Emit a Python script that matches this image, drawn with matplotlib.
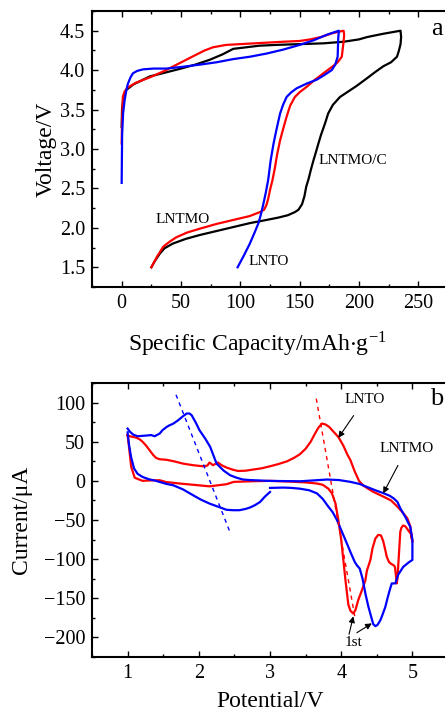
import matplotlib
matplotlib.use("Agg")
import matplotlib.pyplot as plt
from matplotlib.ticker import MultipleLocator

plt.rcParams['font.family'] = ['Liberation Serif', 'DejaVu Serif']
plt.rcParams['mathtext.fontset'] = 'stix'

# ---- panel a: charge/discharge curves (capacity mAh/g, voltage V) ----
lntmo_c_cap = [0, 0.3, 1.5, 4, 10, 23.6, 37, 50, 62, 74, 85, 94, 105, 116, 130, 150, 170, 187, 200, 207, 220, 235,
               235.5, 235, 233.5, 232, 227, 220.6, 214, 207, 198, 190, 184, 178, 174, 171.5, 168, 165.8, 163.5,
               161.7, 159.5, 157.5, 155.5, 154, 152, 149, 146, 140, 132, 122, 108, 94, 80, 66, 54, 43, 36, 32, 28, 25]
lntmo_c_v = [3.28, 3.5, 3.66, 3.75, 3.82, 3.92, 3.97, 4.02, 4.07, 4.13, 4.2, 4.27, 4.29, 4.31, 4.32, 4.33, 4.34, 4.36,
             4.39, 4.42, 4.46, 4.5,
             4.42, 4.33, 4.24, 4.17, 4.10, 4.05, 3.98, 3.90, 3.80, 3.72, 3.66, 3.56, 3.45, 3.33, 3.18, 3.07, 2.95,
             2.86, 2.74, 2.62, 2.52, 2.40, 2.30, 2.23, 2.20, 2.16, 2.13, 2.10, 2.06, 2.01, 1.96, 1.91, 1.86, 1.80,
             1.74, 1.67, 1.58, 1.5]

lntmo_cap = [0, 0.3, 1, 2.5, 5, 12, 24, 36, 49, 62, 70, 77, 88, 100, 118, 136, 150, 159, 168, 178, 187,
             187.5, 187, 185.5, 182, 178, 170, 163, 156, 150, 146, 142, 139, 136, 133.5, 131, 129, 127, 125,
             123.5, 122, 120, 116.5, 108, 94, 80, 66, 55, 46, 40, 35, 30, 25]
lntmo_v = [3.07, 3.35, 3.66, 3.73, 3.78, 3.84, 3.91, 3.99, 4.09, 4.19, 4.25, 4.29, 4.32, 4.33, 4.345, 4.36, 4.37,
           4.39, 4.42, 4.47, 4.5,
           4.45, 4.36, 4.17, 4.10, 4.05, 3.96, 3.88, 3.79, 3.72, 3.66, 3.55, 3.41, 3.25, 3.11, 2.93, 2.75, 2.60,
           2.48, 2.37, 2.29, 2.23, 2.20, 2.15, 2.10, 2.05, 1.99, 1.94, 1.88, 1.82, 1.76, 1.64, 1.5]

lnto_cap = [0, 0.2, 0.4, 1.2, 2.5, 4, 5.3, 7.5, 9.5, 13, 18, 27, 37.7, 50, 66, 80, 94, 108, 122, 136, 150, 162,
            173, 183,
            182.5, 182, 180, 177, 171, 164.5, 156, 147.5, 143, 139, 136, 133.5, 130.5, 128, 125.5, 123.5, 121.5,
            119.5, 117.5, 115.3, 112, 108, 103, 97.7]
lnto_v = [2.57, 2.9, 3.19, 3.45, 3.62, 3.75, 3.83, 3.91, 3.96, 3.99, 4.01, 4.02, 4.02, 4.04, 4.07, 4.10, 4.14, 4.17,
          4.21, 4.26, 4.32, 4.38, 4.45, 4.5,
          4.4, 4.17, 4.07, 4.0, 3.94, 3.88, 3.83, 3.77, 3.72, 3.66, 3.56, 3.45, 3.25, 3.07, 2.85, 2.61, 2.45,
          2.31, 2.18, 2.06, 1.94, 1.80, 1.65, 1.5]

# ---- panel b: cyclic voltammetry (potential V, current uA) ----
cv_lnto_v = [1.0, 1.03, 1.08, 1.12, 1.17, 1.21, 1.26, 1.31, 1.36, 1.40, 1.45, 1.54, 1.65, 1.78, 1.92, 2.06, 2.12,
             2.15, 2.2, 2.24, 2.27, 2.32, 2.39, 2.47, 2.55, 2.66, 2.76, 2.88, 3.0, 3.12, 3.24, 3.34, 3.42, 3.50,
             3.57, 3.63, 3.68, 3.73, 3.78, 3.83, 3.90, 3.96, 4.03, 4.09, 4.13, 4.19, 4.25, 4.31, 4.36, 4.45, 4.52,
             4.60, 4.70, 4.79, 4.86, 4.93, 4.97, 5.0,
             4.98, 4.94, 4.90, 4.87, 4.845, 4.83, 4.81, 4.79, 4.78, 4.77, 4.755, 4.74, 4.70, 4.67, 4.64, 4.62,
             4.59, 4.56, 4.55, 4.52, 4.48, 4.44, 4.41, 4.36, 4.34, 4.29, 4.24, 4.20, 4.17, 4.13, 4.10, 4.06, 4.03,
             4.0, 3.96, 3.92, 3.87, 3.82, 3.74, 3.66, 3.5, 3.3, 3.0, 2.75, 2.49, 2.39, 2.15, 1.92, 1.73, 1.54,
             1.45, 1.30, 1.21, 1.10, 1.05, 1.02, 1.0]
cv_lnto_i = [58.3, 57, 56, 55.3, 53, 50, 45, 39, 33, 29.3, 27.6, 27, 25, 22, 20, 18.6, 19.5, 23.4, 20, 22, 23.4,
             20, 17, 14.5, 12.6, 13, 14.4, 16, 18.6, 21.5, 25, 29.5, 34, 41, 49.8, 60, 68, 73.2, 72, 69, 62, 56,
             45, 33, 26.4, 12, 0, -6, -9, -14, -17, -20.5, -25, -33, -40, -48, -58, -78,
             -68, -63, -58, -57, -60, -65, -95, -125, -131, -122, -110, -108, -106, -103.5, -97, -88.6, -77, -70,
             -69.4, -69, -73.7, -86, -101, -115, -127, -140, -152, -165, -169.5, -166, -158, -127, -101, -75, -50,
             -29, -16, -10, -5, -3.4, -2, -1, 0, -0.5, -1.3, -4.3, -7, -5, -3.4, -1.5, 0.8, 0.5, 0, 4, 18, 43.4,
             58.3]

cv_lntmo_v1 = [1.0, 1.03, 1.08, 1.14, 1.21, 1.28, 1.33, 1.38, 1.45, 1.49, 1.55, 1.59, 1.64, 1.71, 1.77, 1.83, 1.87,
               1.9, 1.96, 2.01, 2.09, 2.16, 2.25, 2.35, 2.44, 2.53, 2.62, 2.72, 2.85, 2.96, 3.2, 3.43, 3.6, 3.80,
               3.97, 4.13, 4.26, 4.36, 4.48, 4.60, 4.68, 4.74, 4.79, 4.83, 4.90, 4.97, 5.0,
               5.0, 4.95, 4.87, 4.80, 4.76, 4.71, 4.68, 4.65, 4.62, 4.58, 4.55, 4.51, 4.48, 4.45, 4.41, 4.38, 4.34,
               4.30, 4.26, 4.22, 4.19, 4.13, 4.08, 4.01, 3.94, 3.88, 3.82, 3.74, 3.66, 3.55, 3.42, 3.3, 3.19, 3.0]
cv_lntmo_i1 = [66.8, 63, 59, 57, 57.5, 58, 58.5, 57, 60.4, 64.7, 69, 71, 73, 77.4, 82, 86, 86, 83.8, 74, 64.6, 54,
               43.4, 22, 13, 7.2, 4, 1.7, 1, 0.5, 0, -0.3, -0.5, 0.5, 1.7, 1, -1.3, -4, -7.7, -12, -16, -19,
               -22.6, -27, -35, -46, -58.8, -75,
               -101, -104, -110, -120, -131, -131, -140, -150, -161, -171, -178, -184, -185.6, -183, -170, -160,
               -144, -125, -112, -107.8, -103.5, -91, -80, -65, -50, -40, -33, -23, -16, -12, -10, -9, -8.6, -9]
cv_lntmo_v2 = [3.0, 2.93, 2.86, 2.79, 2.72, 2.66, 2.57, 2.48, 2.39, 2.30, 2.15, 2.03, 1.92, 1.78, 1.64, 1.55, 1.45,
               1.40, 1.30, 1.21, 1.14, 1.09, 1.05, 1.02, 1.0]
cv_lntmo_i2 = [-14.2, -20, -27, -31, -34, -35.8, -37.5, -37.5, -37, -34, -29, -24, -18.4, -11, -5.6, -4, -1.4, 0,
               2, 5, 9, 16, 30, 46, 62]

# dashed guide lines for peak shift
guide_blue_v = [1.68, 2.44]
guide_blue_i = [110, -66]
guide_red_v = [3.65, 4.20]
guide_red_i = [105, -178]

fig = plt.figure(figsize=(4.45, 7.15), dpi=100)
ax1 = fig.add_axes([92 / 445, 1 - 287 / 715, 356 / 445, 276 / 715])
ax2 = fig.add_axes([92 / 445, 1 - 657 / 715, 356 / 445, 274 / 715])

lw = 1.6
ax1.plot(lntmo_c_cap, lntmo_c_v, color='black', lw=lw)
ax1.plot(lntmo_cap, lntmo_v, color='#ff0000', lw=lw)
ax1.plot(lnto_cap, lnto_v, color='#0000ff', lw=lw)
ax1.set_xlim(-25, 275)
ax1.set_ylim(1.25, 4.75)
ax1.xaxis.set_major_locator(MultipleLocator(50))
ax1.xaxis.set_minor_locator(MultipleLocator(25))
ax1.yaxis.set_major_locator(MultipleLocator(0.5))
ax1.yaxis.set_minor_locator(MultipleLocator(0.25))
ax1.yaxis.set_major_formatter(plt.FormatStrFormatter('%.1f'))
ax1.set_xlabel('Specific Capacity/mAh$\\cdot$g$^{\\mathregular{-1}}$', fontsize=17)
ax1.xaxis.set_label_coords((257 - 92) / 356, -0.155)
ax1.set_ylabel('Voltage/V', fontsize=17, labelpad=2)
ax1.text(166, 2.86, 'LNTMO/C', fontsize=11, va='center')
ax1.text(28.7, 2.11, 'LNTMO', fontsize=11, va='center')
ax1.text(106.7, 1.57, 'LNTO', fontsize=11, va='center')
fig.text(437 / 445, 1 - 29 / 715, 'a', fontsize=19, ha='center', va='center')

ax2.plot(cv_lnto_v, cv_lnto_i, color='#ff0000', lw=lw)
ax2.plot(cv_lntmo_v1, cv_lntmo_i1, color='#0000ff', lw=lw)
ax2.plot(cv_lntmo_v2, cv_lntmo_i2, color='#0000ff', lw=lw)
ax2.plot(guide_blue_v, guide_blue_i, color='#0000ff', lw=1.0, ls=(0, (3, 3)))
ax2.plot(guide_red_v, guide_red_i, color='#ff0000', lw=1.0, ls=(0, (3, 3)))
ax2.set_xlim(0.5, 5.5)
ax2.set_ylim(-225, 125)
ax2.xaxis.set_major_locator(MultipleLocator(1))
ax2.xaxis.set_minor_locator(MultipleLocator(0.5))
ax2.yaxis.set_major_locator(MultipleLocator(50))
ax2.yaxis.set_minor_locator(MultipleLocator(25))
ax2.set_xlabel('Potential/V', fontsize=17, labelpad=6)
ax2.set_ylabel('Current/\u03bcA', fontsize=17, labelpad=8)

arrow = dict(arrowstyle='-|>', color='black', lw=0.8, mutation_scale=9)
ax2.annotate('LNTO', xy=(3.96, 55), xytext=(4.33, 104), fontsize=11, ha='center', va='center',
             arrowprops=dict(arrow, shrinkA=6, shrinkB=0))
ax2.annotate('LNTMO', xy=(4.59, -16), xytext=(4.92, 41), fontsize=11, ha='center', va='center',
             arrowprops=dict(arrow, shrinkA=6, shrinkB=0))
ax2.text(4.17, -206, '1st', fontsize=11, ha='center', va='center')
ax2.annotate('', xy=(4.17, -173), xytext=(4.11, -196),
             arrowprops=dict(arrow, shrinkA=0, shrinkB=0))
ax2.annotate('', xy=(4.43, -182), xytext=(4.22, -194),
             arrowprops=dict(arrow, shrinkA=0, shrinkB=0))
fig.text(437 / 445, 1 - 399 / 715, 'b', fontsize=19, ha='center', va='center')

for ax in (ax1, ax2):
    for s in ax.spines.values():
        s.set_linewidth(1.5)
    ax.spines['right'].set_visible(False)
    ax.tick_params(which='both', direction='in', top=True, right=False, labelsize=14.5, width=1.0)
    ax.tick_params(which='major', length=4, pad=5)
    ax.tick_params(which='minor', length=2.5)

fig.savefig('out.png', dpi=100)
